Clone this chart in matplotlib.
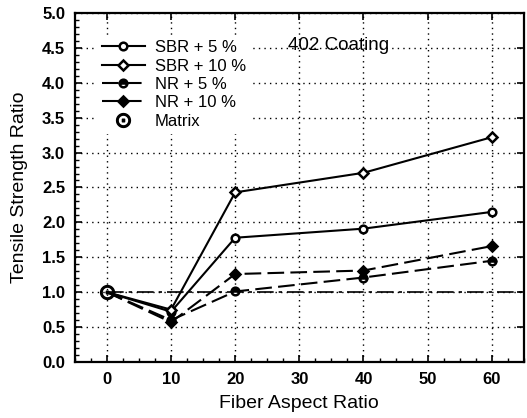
import numpy as np
import matplotlib
matplotlib.use("Agg")
from matplotlib import pyplot as plt
from matplotlib.ticker import MultipleLocator

# fiber aspect ratio and tensile strength ratio
aspect = [0, 10, 20, 40, 60]
sbr_5 = [1.0, 0.72, 1.78, 1.91, 2.15]
sbr_10 = [1.0, 0.75, 2.43, 2.71, 3.22]
nr_5 = [1.0, 0.60, 1.01, 1.21, 1.45]
nr_10 = [1.0, 0.57, 1.26, 1.31, 1.66]
matrix_value = 1.0

x_ticks = [0, 10, 20, 30, 40, 50, 60]
y_ticks = [0.0, 0.5, 1.0, 1.5, 2.0, 2.5, 3.0, 3.5, 4.0, 4.5, 5.0]

plt.rcParams['font.family'] = ['Liberation Sans', 'DejaVu Sans']


def main():
	fig = plt.figure(figsize=(5.27, 4.18), dpi=100)
	ax = fig.add_axes([0.142, 0.134, 0.852, 0.835])

	ax.hlines(matrix_value, 0, 65, colors='black', linestyles=(0, (10, 3, 2, 3)), linewidth=1.2, zorder=2)

	ms = 5.5
	# the shared point at 0 is only marked by the matrix symbol
	mk = slice(1, None)
	ax.plot(aspect, sbr_5, color='black', lw=1.5, marker='o', ms=ms, mfc='white', mew=1.8,
			markevery=mk, label='SBR + 5 %', zorder=4)
	ax.plot(aspect, sbr_10, color='black', lw=1.5, marker='D', ms=ms, mfc='white', mew=1.8,
			markevery=mk, label='SBR + 10 %', zorder=4)
	ax.plot(aspect, nr_5, color='black', lw=1.5, ls=(0, (8, 3)), marker='o', ms=ms,
			fillstyle='top', mfc='black', mfcalt='white', mew=1.8, markevery=mk,
			label='NR + 5 %', zorder=4)
	ax.plot(aspect, nr_10, color='black', lw=1.5, ls=(0, (8, 3)), marker='D', ms=ms,
			mfc='black', mew=1.8, markevery=mk, label='NR + 10 %', zorder=4)
	ax.plot([0], [matrix_value], color='black', ls='none', marker=r'$\odot$', ms=10,
			label='Matrix', zorder=5)

	ax.set_xlim(-5, 65)
	ax.set_ylim(0, 5)
	ax.set_xticks(x_ticks)
	ax.set_yticks(y_ticks)
	ax.set_yticklabels([f"{v:.1f}" for v in y_ticks])
	ax.xaxis.set_minor_locator(MultipleLocator(2.5))
	ax.yaxis.set_minor_locator(MultipleLocator(0.1))
	ax.tick_params(which='major', direction='in', length=5, width=1.2, top=True, right=True,
				   labelsize=12, pad=7)
	ax.tick_params(which='minor', direction='in', length=3, width=1.0)
	for lab in ax.get_xticklabels() + ax.get_yticklabels():
		lab.set_fontweight('bold')
	for s in ax.spines.values():
		s.set_linewidth(1.6)

	ax.grid(True, which='major', color='black', ls=(0, (1, 3)), lw=1.0)

	ax.set_xlabel('Fiber Aspect Ratio', fontsize=14, labelpad=6)
	ax.set_ylabel('Tensile Strength Ratio', fontsize=14, labelpad=10)

	ax.text(28.3, 4.54, '402 Coating', fontsize=13.5, va='center', ha='left')

	leg = ax.legend(loc='upper left', bbox_to_anchor=(0.03, 0.96), frameon=True, fontsize=12,
					handlelength=2.6, labelspacing=0.2, handletextpad=0.6, borderpad=0.3,
					fancybox=False, framealpha=1)
	leg.get_frame().set_edgecolor('none')
	leg.get_frame().set_facecolor('white')

	plt.savefig("out.png", format="png", dpi=100)
	plt.close()


if __name__ == "__main__":
	main()
